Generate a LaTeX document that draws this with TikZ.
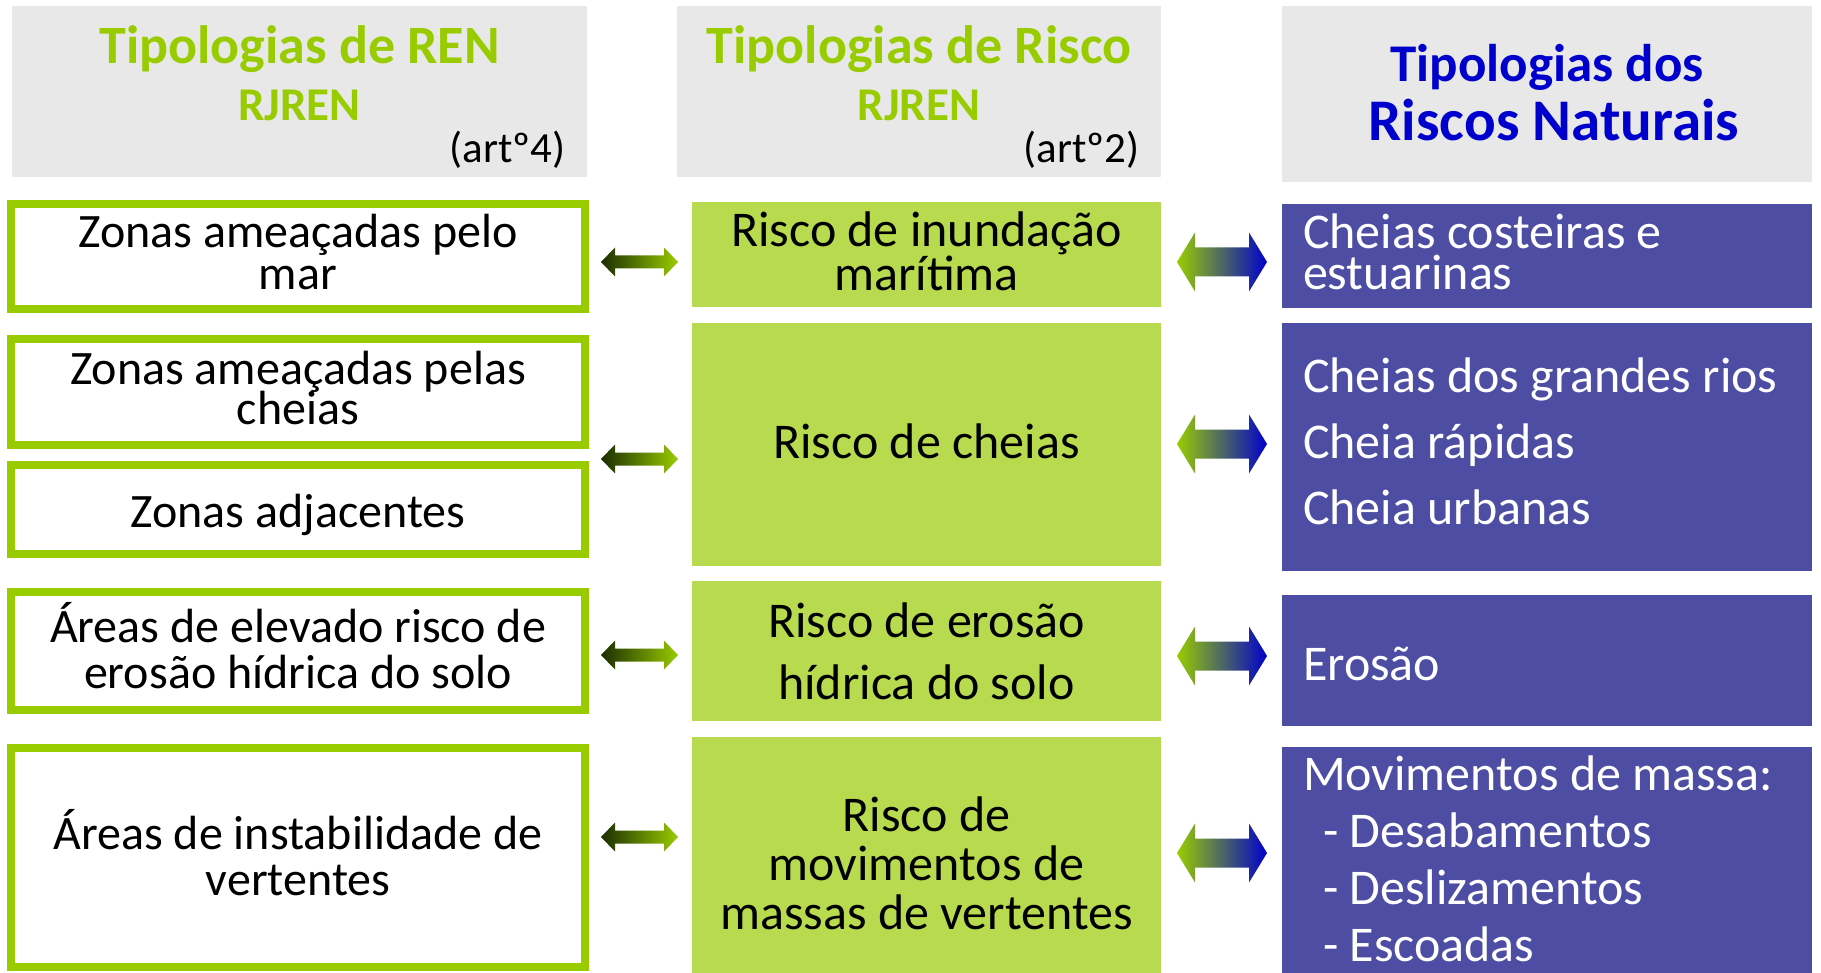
\documentclass[tikz,border=0pt]{standalone}
\usepackage{fontspec}
\setmainfont{Carlito}
\usetikzlibrary{calc}

\definecolor{rengreen}{HTML}{99CC00}
\definecolor{riscgreen}{HTML}{B8DA4F}
\definecolor{natblue}{HTML}{4D4DA3}
\definecolor{titleblue}{HTML}{0000CC}
\definecolor{headgray}{HTML}{E8E8E8}
\definecolor{darkleaf}{HTML}{1A2E00}

% lines of a box: [alignment]{width}{nudge up}{lines}
\newcommand{\boxlines}[4][\centering]{%
  \setbox0=\hbox{\parbox{#2}{\lineskiplimit=-\maxdimen #1#4}}%
  \raisebox{0pt}[\dimexpr\ht0-#3\relax][\dimexpr\dp0+#3\relax]{\copy0}}
% indented list item in the hazards column
\newcommand{\dashitem}{\hspace*{10pt}- }

% two-headed block arrow: style, from, to, shaft half, head half, head length
\newcommand{\twoway}[6]{%
  \path[#1] (#2) -- ($(#2)+(#6,-#5)$) -- ($(#2)+(#6,-#4)$)
    -- ($(#3)+(-#6,-#4)$) -- ($(#3)+(-#6,-#5)$) -- (#3)
    -- ($(#3)+(-#6,#5)$) -- ($(#3)+(-#6,#4)$)
    -- ($(#2)+(#6,#4)$) -- ($(#2)+(#6,#5)$) -- cycle;}

\begin{document}
\begin{tikzpicture}[
     x=0.5pt, y=-0.5pt,
     % define styles
     headbox/.style={
         fill=headgray,
         draw=none,
         minimum height=85.5pt
     },
     gtitle/.style={
         text=rengreen,
         font=\fontsize{27}{32}\selectfont\bfseries,
         inner sep=0pt
     },
     gsub/.style={
         text=rengreen,
         font=\fontsize{23.5}{28}\selectfont\bfseries,
         inner sep=0pt
     },
     artnote/.style={
         font=\fontsize{21.5}{26}\selectfont,
         inner sep=0pt
     },
     btitle/.style={
         text=titleblue,
         font=\fontsize{26.5}{33}\selectfont\bfseries,
         inner sep=0pt
     },
     renbox/.style={
         draw=rengreen,
         line width=4pt,
         fill=white,
         minimum width=287pt,
         inner sep=0pt
     },
     riscbox/.style={
         fill=riscgreen,
         minimum width=234.5pt,
         inner sep=0pt
     },
     natbox/.style={
         fill=natblue,
         text=white,
         minimum width=265pt,
         inner xsep=10.5pt,
         inner ysep=0pt
     },
     leftarrow/.style={left color=darkleaf, right color=rengreen},
     rightarrow/.style={left color=rengreen, right color=titleblue}
]
\useasboundingbox[fill=white] (0,0) rectangle (1821,973);

% headings
\node[headbox, minimum width=287.5pt] (hren) at (299.5,91.5) {};
\node[gtitle, anchor=base] (hren-a) at (299.5,64) {Tipologias de REN};
\node[gsub, anchor=base] (hren-b) at (299.5,121) {RJREN};
\node[artnote, anchor=base east] (hren-c) at (566,163) {(artº4)};

\node[headbox, minimum width=242pt] (hrisc) at (919,91.5) {};
\node[gtitle, anchor=base] (hrisc-a) at (919,64) {Tipologias de Risco};
\node[gsub, anchor=base] (hrisc-b) at (919,121) {RJREN};
\node[artnote, anchor=base east] (hrisc-c) at (1140,163) {(artº2)};

\node[headbox, minimum width=265pt, minimum height=88pt] (hnat) at (1547,94) {};
\node[btitle, anchor=base] (hnat-a) at (1547,82) {Tipologias dos};
\node[btitle, anchor=base, font=\fontsize{29.5}{33}\selectfont\bfseries]
    (hnat-b) at (1554,141) {Riscos Naturais};

% REN column
\node[renbox, minimum height=52.5pt, font=\fontsize{24}{21}\selectfont]
    (ren1) at (298,256.5) {\boxlines{280pt}{2.3pt}{Zonas ameaçadas pelo\\mar}};
\node[renbox, minimum height=53pt, font=\fontsize{24}{20}\selectfont]
    (ren2) at (298,392) {\boxlines{280pt}{2pt}{Zonas ameaçadas pelas\\cheias}};
\node[renbox, minimum height=44.5pt, font=\fontsize{24}{23}\selectfont]
    (ren3) at (298,509.5) {\boxlines{280pt}{-2.9pt}{Zonas adjacentes}};
\node[renbox, minimum height=59pt, font=\fontsize{24}{23}\selectfont]
    (ren4) at (298,651) {\boxlines{280pt}{2.9pt}{Áreas de elevado risco de\\erosão hídrica do solo}};
\node[renbox, minimum height=109.5pt, font=\fontsize{24}{23}\selectfont]
    (ren5) at (298,857.5) {\boxlines{280pt}{2.3pt}{Áreas de instabilidade de\\vertentes}};

% risk column
\node[riscbox, minimum height=52.5pt, font=\fontsize{25}{22}\selectfont]
    (risc1) at (926.5,254.5) {\boxlines{230pt}{1.75pt}{Risco de inundação\\marítima}};
\node[riscbox, minimum height=121.5pt, font=\fontsize{25}{30}\selectfont]
    (risc2) at (926.5,444.5) {\boxlines{230pt}{1.75pt}{Risco de cheias}};
\node[riscbox, minimum height=70pt, font=\fontsize{25}{31}\selectfont]
    (risc3) at (926.5,651) {\boxlines{230pt}{0pt}{Risco de erosão\\hídrica do solo}};
\node[riscbox, minimum height=118pt, font=\fontsize{25}{24.5}\selectfont]
    (risc4) at (926.5,855) {\boxlines{230pt}{-4pt}{Risco de\\movimentos de\\massas de vertentes}};

% natural hazards column
\node[natbox, minimum height=52pt, font=\fontsize{25}{20.5}\selectfont]
    (nat1) at (1547,256) {\boxlines[\raggedright]{244pt}{2pt}{Cheias costeiras e\\estuarinas}};
\node[natbox, minimum height=124pt, font=\fontsize{25}{33}\selectfont]
    (nat2) at (1547,447) {\boxlines[\raggedright]{244pt}{2.9pt}{Cheias dos grandes rios\\Cheia rápidas\\Cheia urbanas}};
\node[natbox, minimum height=65.5pt, font=\fontsize{25}{30}\selectfont]
    (nat3) at (1547,660.5) {\boxlines[\raggedright]{244pt}{-1.75pt}{Erosão}};
\node[natbox, minimum height=113pt, font=\fontsize{25}{28.5}\selectfont]
    (nat4) at (1547,860) {\boxlines[\raggedright]{244pt}{0.5pt}{Movimentos de massa:\\\dashitem Desabamentos\\\dashitem Deslizamentos\\\dashitem Escoadas}};

% arrows between REN and risk
\foreach \i/\y in {1/262,2/459,3/655,4/837} {
    \coordinate (la\i) at (601,\y);
    \coordinate (lb\i) at (678,\y);
    \twoway{leftarrow}{la\i}{lb\i}{6.5}{14.5}{14}
}
% arrows between risk and natural hazards
\foreach \i/\y in {1/262,2/444,3/656,4/853} {
    \coordinate (ra\i) at (1177,\y);
    \coordinate (rb\i) at (1267,\y);
    \twoway{rightarrow}{ra\i}{rb\i}{14.5}{29.5}{18}
}
\end{tikzpicture}
\end{document}
